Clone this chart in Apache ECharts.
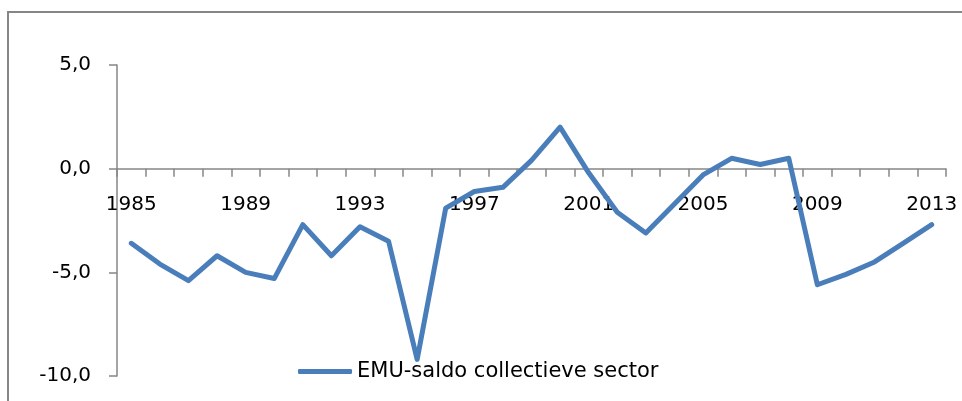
<!DOCTYPE html>
<html>
<head>
<meta charset="utf-8">
<script src="https://cdn.jsdelivr.net/npm/echarts@6/dist/echarts.min.js"></script>
<style>
  html, body { margin: 0; padding: 0; background: #fff; }
  #chart { width: 962px; height: 401px; }
</style>
</head>
<body>
<div id="chart"></div>
<script>
const years = [
  "1985", "1986", "1987", "1988", "1989", "1990", "1991", "1992", "1993", "1994",
  "1995", "1996", "1997", "1998", "1999", "2000", "2001", "2002", "2003", "2004",
  "2005", "2006", "2007", "2008", "2009", "2010", "2011", "2012", "2013"
];
const emuSaldo = [
  -3.6, -4.6, -5.4, -4.2, -5.0, -5.3, -2.7, -4.2, -2.8, -3.5,
  -9.2, -1.9, -1.1, -0.9, 0.4, 2.0, -0.2, -2.1, -3.1, -1.7,
  -0.3, 0.5, 0.2, 0.5, -5.6, -5.1, -4.5, -3.6, -2.7
];
const seriesName = "EMU-saldo collectieve sector";

const chart = echarts.init(document.getElementById("chart"));
const font = "DejaVu Sans";
const axisGray = "#868686";

// plot area: 5 at y=65, -10 at y=376; the zero line sits at y≈168.7
const plotTop = 65;
const plotBottom = 25;
const zeroY = 65 + (401 - 65 - 25) * 5 / 15;

chart.setOption({
  animation: false,
  textStyle: { fontFamily: font },
  graphic: [
    {
      type: "rect",
      shape: { x: 8, y: 12, width: 1000, height: 500 },
      style: { fill: "none", stroke: axisGray, lineWidth: 2 },
      silent: true
    }
  ],
  grid: [
    { left: 117, right: 16, top: plotTop, bottom: plotBottom, containLabel: false, outerBoundsMode: "none" },
    // helper grid whose bottom edge is the zero line, only used to place the year labels
    { left: 117, right: 16, top: plotTop, height: zeroY - plotTop, containLabel: false, outerBoundsMode: "none" }
  ],
  legend: {
    data: [seriesName],
    left: 298,
    top: 361,
    padding: 0,
    icon: "roundRect",
    itemWidth: 54,
    itemHeight: 5,
    itemGap: 5,
    textStyle: { fontFamily: font, fontSize: 21, color: "#000" }
  },
  xAxis: [
    {
      type: "category",
      gridIndex: 0,
      data: years,
      boundaryGap: true,
      axisLine: { onZero: true, lineStyle: { color: axisGray, width: 1.5 } },
      axisTick: { show: true, interval: 0, length: 8, lineStyle: { color: axisGray, width: 1.5 } },
      axisLabel: { show: false },
      splitLine: { show: false }
    },
    {
      type: "category",
      gridIndex: 1,
      data: years,
      boundaryGap: true,
      axisLine: { show: false },
      axisTick: { show: false },
      axisLabel: { interval: 3, margin: 26, fontSize: 20, color: "#000", fontFamily: font },
      splitLine: { show: false }
    }
  ],
  yAxis: [
    {
      type: "value",
      gridIndex: 0,
      min: -10,
      max: 5,
      interval: 5,
      axisLine: { show: true, lineStyle: { color: axisGray, width: 1.5 } },
      axisTick: { show: true, length: 8, lineStyle: { color: axisGray, width: 1.5 } },
      axisLabel: {
        margin: 26,
        fontSize: 20,
        color: "#000",
        fontFamily: font,
        padding: [5, 0, 0, 0],
        formatter: (v) => v.toFixed(1).replace(".", ",")
      },
      splitLine: { show: false }
    },
    {
      type: "value",
      gridIndex: 1,
      show: false
    }
  ],
  series: [
    {
      name: seriesName,
      type: "line",
      xAxisIndex: 0,
      yAxisIndex: 0,
      z: 10,
      data: emuSaldo,
      symbol: "none",
      lineStyle: { color: "#4a7ebb", width: 5, join: "round", cap: "round" },
      itemStyle: { color: "#4a7ebb" }
    }
  ]
});
</script>
</body>
</html>
